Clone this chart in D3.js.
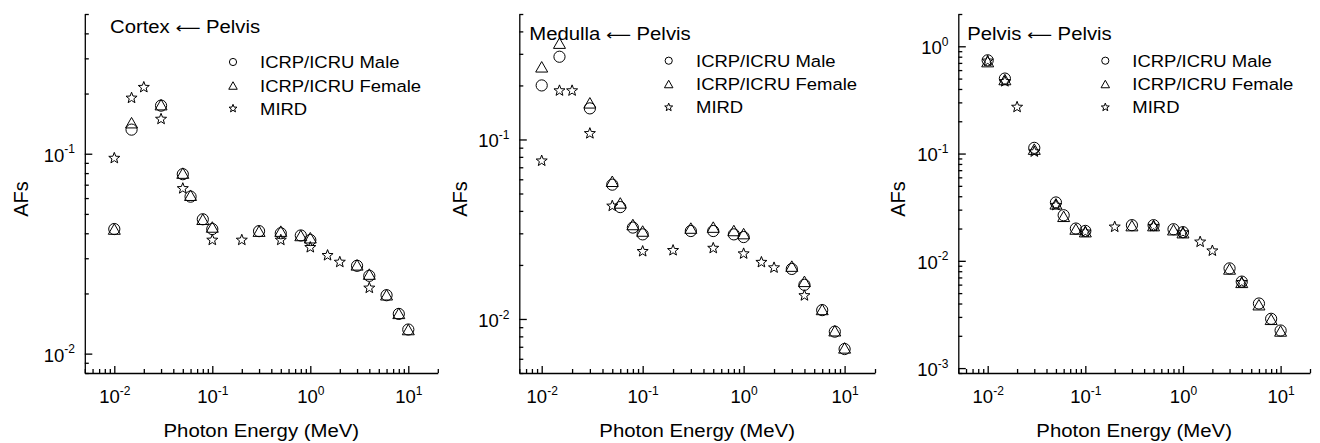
<!DOCTYPE html>
<html><head><meta charset="utf-8">
<script src="https://cdn.jsdelivr.net/npm/d3@7"></script>
<style>
body{margin:0;background:#fff}
svg text{font-family:"Liberation Sans",Arial,Helvetica,sans-serif;fill:#000}
</style>
</head><body>
<svg id="chart" width="1320" height="443"></svg>
<script>
// ---------------- data ----------------
const energiesICRP = [0.01, 0.015, 0.03, 0.05, 0.06, 0.08, 0.1, 0.3, 0.5, 0.8, 1, 3, 4, 6, 8, 10];
const energiesMIRD = [0.01, 0.015, 0.02, 0.03, 0.05, 0.1, 0.2, 0.5, 1, 1.5, 2, 4];

const cortexMale   = [0.042, 0.132, 0.174, 0.079, 0.061, 0.047, 0.042, 0.041, 0.040, 0.039, 0.037, 0.0275, 0.0245, 0.0196, 0.0158, 0.0132];
const cortexFemale = [0.042, 0.143, 0.176, 0.080, 0.062, 0.047, 0.043, 0.041, 0.041, 0.039, 0.038, 0.0278, 0.0250, 0.0197, 0.0159, 0.0132];
const cortexMIRD   = [0.095, 0.190, 0.215, 0.149, 0.067, 0.037, 0.037, 0.037, 0.034, 0.031, 0.0287, 0.0213];

const medullaMale   = [0.200, 0.289, 0.149, 0.056, 0.042, 0.0323, 0.0296, 0.0309, 0.0309, 0.0296, 0.0286, 0.0190, 0.0155, 0.0112, 0.0085, 0.0068];
const medullaFemale = [0.254, 0.344, 0.160, 0.0585, 0.0443, 0.0336, 0.0309, 0.0321, 0.0325, 0.0311, 0.0299, 0.0197, 0.0162, 0.0113, 0.0086, 0.0069];
const medullaMIRD   = [0.076, 0.187, 0.187, 0.108, 0.0426, 0.0238, 0.0241, 0.0248, 0.0231, 0.0207, 0.0193, 0.0135];

const pelvisMale   = [0.74, 0.50, 0.113, 0.035, 0.0266, 0.0200, 0.0190, 0.0215, 0.0215, 0.0197, 0.0185, 0.0085, 0.0064, 0.0040, 0.00288, 0.00224];
const pelvisFemale = [0.72, 0.49, 0.110, 0.034, 0.0260, 0.0198, 0.0187, 0.0213, 0.0213, 0.0195, 0.0183, 0.0084, 0.0063, 0.0039, 0.00285, 0.00222];
const pelvisMIRD   = [0.73, 0.47, 0.271, 0.104, 0.033, 0.0186, 0.0207, 0.0210, 0.0183, 0.0150, 0.0124, 0.0063];

const panelTargets = ["Cortex", "Medulla", "Pelvis"];
const panelSource = "Pelvis";
const legendLabels = ["ICRP/ICRU Male", "ICRP/ICRU Female", "MIRD"];
const xTitle = "Photon Energy (MeV)";
const yTitle = "AFs";
const xDomains = [[0.005, 20], [0.006, 20], [0.005, 20]];
const yDomains = [[0.008, 0.5], [0.005, 0.5], [0.0009, 2]];

const seriesByPanel = [
  [cortexMale, cortexFemale, cortexMIRD],
  [medullaMale, medullaFemale, medullaMIRD],
  [pelvisMale, pelvisFemale, pelvisMIRD]
];

// ---------------- layout ----------------
const TOP = 14, BOTTOM = 373;
const layout = [
  {x0: 84.8, x1: 437.8, yLabX: 27.5, title: [110, 33.3], legSym: 233, legText: 260, legBase: [68, 91.5, 114.5]},
  {x0: 519.3, x1: 875, yLabX: 467, title: [529.3, 39.5], legSym: 668.7, legText: 696, legBase: [66.7, 90, 113.3]},
  {x0: 958.3, x1: 1310, yLabX: 905, title: [967.3, 40], legSym: 1105.3, legText: 1132.3, legBase: [66.7, 90, 113.3]}
];

const svg = d3.select("#chart");

function logTicks(domain) {
  const lo = Math.floor(Math.log10(domain[0])) , hi = Math.ceil(Math.log10(domain[1]));
  const major = [], minor = [];
  for (let k = lo; k <= hi; k++) {
    for (let m = 1; m <= 9; m++) {
      const v = m * Math.pow(10, k);
      if (v >= domain[0] * 0.9999 && v <= domain[1] * 1.0001) (m === 1 ? major : minor).push(v);
    }
  }
  return {major, minor};
}

function trianglePath(w, h) {
  return `M0,${-h/2}L${w/2},${h/2}L${-w/2},${h/2}Z`;
}
function starPath(R) {
  const r = R * 0.42; let p = "";
  for (let i = 0; i < 10; i++) {
    const a = -Math.PI / 2 + i * Math.PI / 5, rr = i % 2 ? r : R;
    p += (i ? "L" : "M") + (rr * Math.cos(a)).toFixed(2) + "," + (rr * Math.sin(a)).toFixed(2);
  }
  return p + "Z";
}

function drawMarker(g, type, x, y, big) {
  if (type === 0) {
    g.append("circle").attr("cx", x).attr("cy", y).attr("r", big ? 5.6 : 3.6)
      .attr("fill", "none").attr("stroke", "#000").attr("stroke-width", 1);
  } else if (type === 1) {
    g.append("path").attr("d", big ? trianglePath(12, 10.5) : trianglePath(8.5, 7.5))
      .attr("transform", `translate(${x},${y})`)
      .attr("fill", "none").attr("stroke", "#000").attr("stroke-width", 1);
  } else {
    g.append("path").attr("d", starPath(big ? 5.8 : 4.2))
      .attr("transform", `translate(${x},${y})`)
      .attr("fill", "none").attr("stroke", "#000").attr("stroke-width", 1);
  }
}

function powLabel(sel, v) {
  const e = Math.round(Math.log10(v));
  sel.append("tspan").text("10");
  sel.append("tspan").attr("font-size", 12).attr("dy", -8.3).text(String(e));
}

layout.forEach((L, i) => {
  const g = svg.append("g");
  const x = d3.scaleLog().domain(xDomains[i]).range([L.x0, L.x1]);
  const y = d3.scaleLog().domain(yDomains[i]).range([BOTTOM, TOP]);
  const xt = logTicks(xDomains[i]), yt = logTicks(yDomains[i]);

  // x axis (ticks pointing inward)
  const gx = g.append("g").attr("transform", `translate(0,${BOTTOM})`);
  gx.append("g").call(d3.axisBottom(x).tickValues(xt.minor).tickSizeInner(-4).tickSizeOuter(0).tickFormat(""));
  const gxM = gx.append("g").call(d3.axisBottom(x).tickValues(xt.major).tickSizeInner(-7).tickSizeOuter(0).tickFormat(""));
  gxM.select(".domain").remove();
  gxM.selectAll(".tick").each(function(v) {
    const t = d3.select(this).append("text").attr("y", 30.3).attr("text-anchor", "middle")
      .attr("font-size", 18.5).attr("fill", "#000");
    powLabel(t, v);
  });

  // y axis
  const gy = g.append("g").attr("transform", `translate(${L.x0},0)`);
  gy.append("g").call(d3.axisLeft(y).tickValues(yt.minor).tickSizeInner(-4).tickSizeOuter(0).tickFormat(""));
  const gyM = gy.append("g").call(d3.axisLeft(y).tickValues(yt.major).tickSizeInner(-7.5).tickSizeOuter(0).tickFormat(""));
  gyM.select(".domain").remove();
  gyM.selectAll(".tick").each(function(v) {
    const t = d3.select(this).append("text").attr("x", -9.8).attr("y", 7.4).attr("text-anchor", "end")
      .attr("font-size", 18.5).attr("fill", "#000");
    powLabel(t, v);
  });
  g.selectAll(".domain, .tick line").attr("stroke", "#000").attr("stroke-width", 1.3);

  // data
  const series = seriesByPanel[i];
  const marks = g.append("g");
  [energiesICRP, energiesICRP, energiesMIRD].forEach((en, s) => {
    series[s].forEach((v, j) => drawMarker(marks, s, x(en[j]), y(v), true));
  });

  // title
  const tt = g.append("text").attr("transform", `translate(${L.title[0]},${L.title[1]}) scale(1.16,1)`)
    .attr("font-size", 17.5);
  tt.append("tspan").text(panelTargets[i] + " ");
  tt.append("tspan").attr("font-family", "DejaVu Sans").attr("font-size", 15).text("\u27F5");
  tt.append("tspan").text(" " + panelSource);

  // legend
  legendLabels.forEach((lab, s) => {
    drawMarker(g, s, L.legSym, L.legBase[s] - 6, false);
    g.append("text").attr("transform", `translate(${L.legText},${L.legBase[s]}) scale(1.1,1)`)
      .attr("font-size", 16.8).text(lab);
  });

  // axis titles
  g.append("text").attr("transform", `translate(${(L.x0 + L.x1) / 2},437) scale(1.1,1)`)
    .attr("text-anchor", "middle").attr("font-size", 18.5).text(xTitle);
  g.append("text").attr("transform", `translate(${L.yLabX},199) rotate(-90)`)
    .attr("text-anchor", "middle").attr("font-size", 20).text(yTitle);
});
</script>
</body></html>
